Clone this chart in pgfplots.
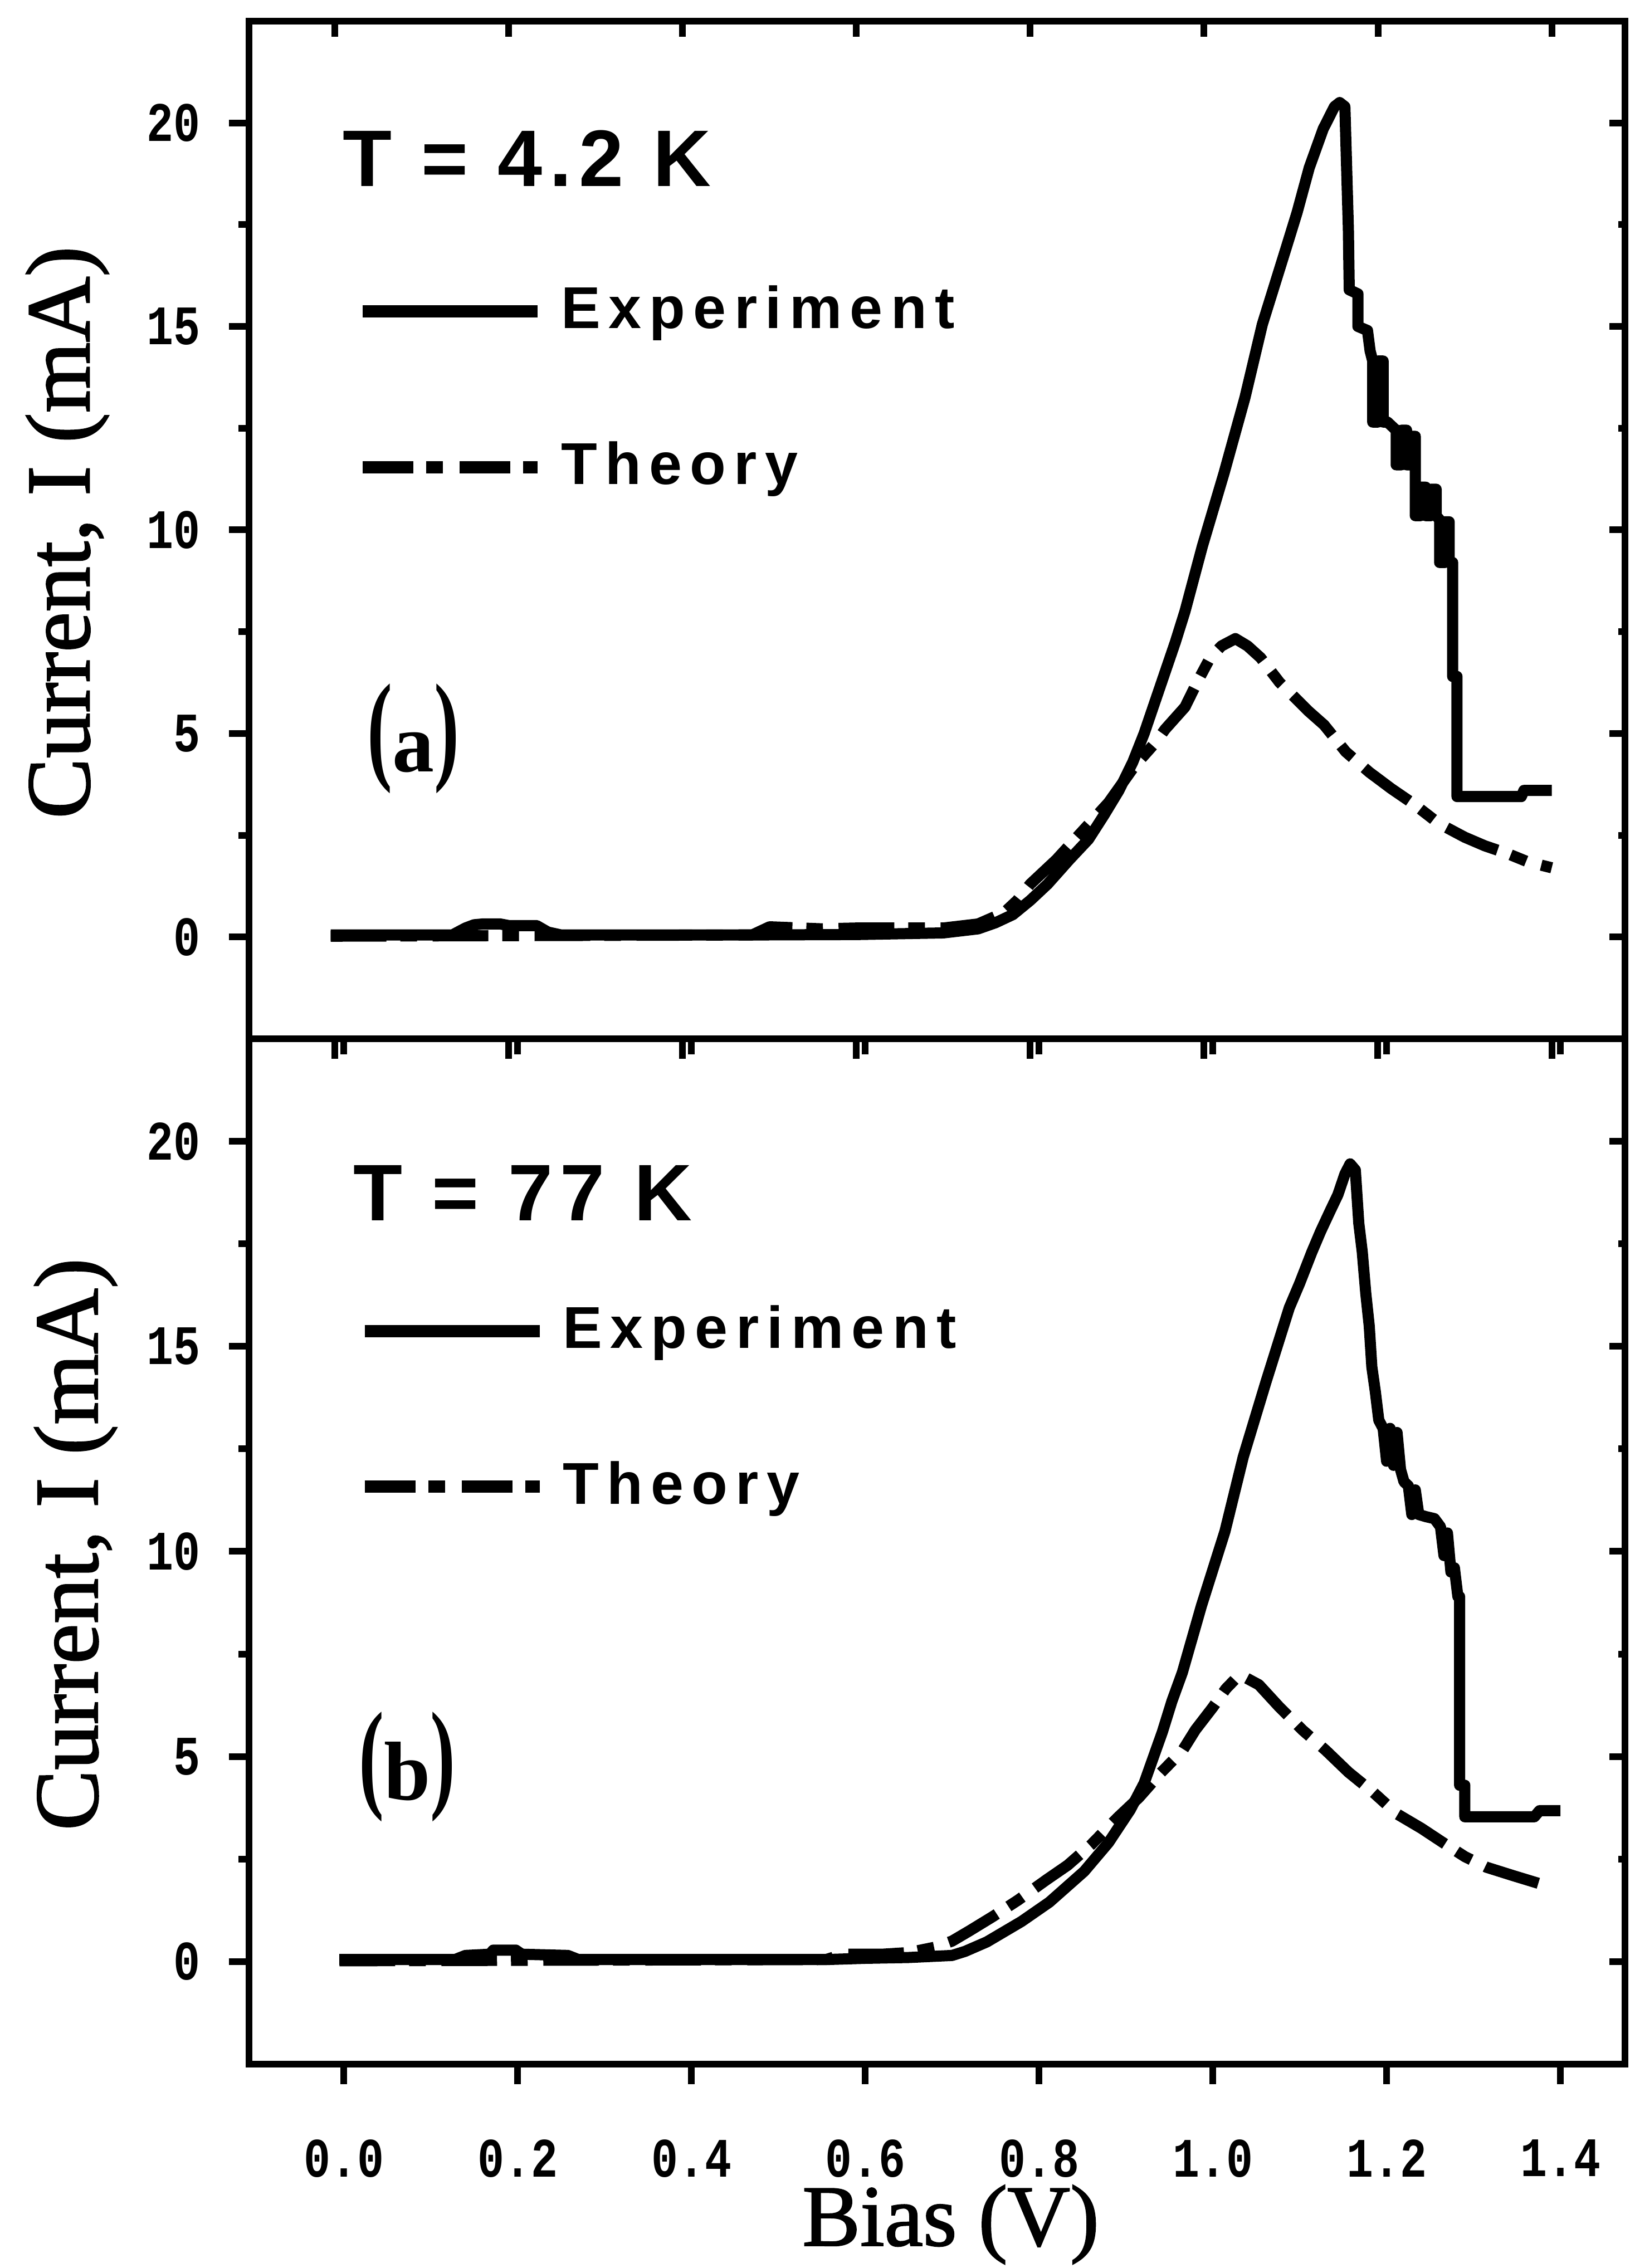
\documentclass[border=0pt]{standalone}
\usepackage{fontspec}
\setmainfont{Liberation Serif}
\newfontfamily\labfont{Liberation Serif}[FakeBold=1.5]
\newfontfamily\tickfont{Liberation Mono}[FakeStretch=0.8]
\newfontfamily\legfont{Liberation Sans}[LetterSpace=13.5]
\newfontfamily\tempfont{Liberation Sans}[LetterSpace=9]
\usepackage{graphicx}
\usepackage{pgfplots}
\usepackage{pgfplotstable}
\pgfplotsset{compat=1.18}

% measured I-V curves: bias (V), current (mA)
\pgfplotstableread{
V I
-0.005 0.05
0.135 0.05
0.150 0.22
0.160 0.30
0.170 0.32
0.190 0.32
0.200 0.28
0.232 0.28
0.245 0.12
0.260 0.05
0.480 0.05
0.600 0.06
0.700 0.10
0.740 0.20
0.760 0.35
0.780 0.55
0.800 0.90
0.820 1.30
0.845 1.90
0.867 2.40
0.885 3.00
0.902 3.60
0.918 4.30
0.931 5.00
0.943 5.75
0.955 6.50
0.967 7.25
0.978 8.00
0.998 9.60
1.023 11.40
1.047 13.25
1.067 15.05
1.094 16.90
1.107 17.80
1.121 18.90
1.137 19.85
1.150 20.40
1.156 20.50
1.162 20.40
1.166 17.40
1.167 15.90
1.177 15.80
1.177 15.00
1.188 14.90
1.191 14.40
1.194 14.15
1.194 12.65
1.200 12.65
1.200 14.15
1.206 14.15
1.206 12.65
1.211 12.65
1.221 12.45
1.221 11.60
1.227 11.60
1.227 12.45
1.233 12.45
1.233 11.60
1.239 11.60
1.239 12.30
1.243 12.30
1.243 10.35
1.249 10.35
1.249 11.05
1.255 11.05
1.255 10.35
1.261 10.35
1.261 11.00
1.267 11.00
1.267 10.35
1.271 10.25
1.271 9.20
1.277 9.20
1.277 10.20
1.282 10.20
1.282 9.20
1.286 9.20
1.286 6.40
1.291 6.40
1.291 3.45
1.365 3.45
1.368 3.60
1.400 3.60
}\expA

\pgfplotstableread{
V I
-0.005 0.02
0.480 0.05
0.500 0.25
0.560 0.20
0.600 0.22
0.650 0.22
0.700 0.22
0.740 0.32
0.770 0.60
0.785 0.90
0.800 1.30
0.830 1.90
0.860 2.60
0.890 3.30
0.920 4.20
0.945 4.80
0.955 5.10
0.978 5.65
0.993 6.30
1.007 6.86
1.020 7.15
1.036 7.33
1.050 7.15
1.065 6.86
1.087 6.25
1.106 5.85
1.120 5.55
1.138 5.21
1.163 4.55
1.190 4.05
1.215 3.65
1.241 3.27
1.270 2.79
1.300 2.45
1.323 2.24
1.349 2.05
1.372 1.85
1.400 1.70
}\thA

\pgfplotstableread{
V I
-0.005 0.05
0.128 0.05
0.140 0.15
0.168 0.18
0.172 0.28
0.198 0.28
0.205 0.18
0.258 0.15
0.270 0.05
0.555 0.05
0.600 0.08
0.650 0.10
0.700 0.15
0.715 0.25
0.740 0.48
0.780 0.98
0.812 1.45
0.852 2.20
0.880 2.90
0.905 3.70
0.921 4.35
0.942 5.60
0.953 6.35
0.965 7.05
0.987 8.68
1.014 10.49
1.035 12.30
1.061 14.12
1.088 15.94
1.100 16.54
1.114 17.30
1.124 17.80
1.135 18.30
1.144 18.70
1.152 19.20
1.158 19.45
1.164 19.30
1.168 18.00
1.172 17.30
1.176 16.30
1.180 15.50
1.183 14.50
1.187 13.90
1.191 13.20
1.196 13.00
1.200 12.20
1.204 13.00
1.208 12.10
1.212 12.90
1.216 12.00
1.220 11.70
1.225 11.60
1.229 10.90
1.233 11.50
1.237 10.90
1.245 10.85
1.255 10.80
1.262 10.60
1.266 9.90
1.270 10.45
1.274 9.50
1.278 9.60
1.282 8.90
1.284 8.90
1.284 4.30
1.290 4.30
1.290 3.53
1.370 3.53
1.376 3.68
1.400 3.68
}\expB

\pgfplotstableread{
V I
-0.005 0.02
0.555 0.05
0.575 0.18
0.620 0.18
0.650 0.22
0.680 0.35
0.700 0.50
0.720 0.75
0.747 1.10
0.776 1.50
0.809 2.00
0.833 2.35
0.860 2.85
0.890 3.50
0.915 4.00
0.940 4.60
0.965 5.14
0.980 5.65
1.000 6.20
1.015 6.65
1.031 7.00
1.053 6.75
1.076 6.22
1.103 5.65
1.130 5.15
1.156 4.62
1.185 4.12
1.212 3.60
1.240 3.25
1.265 2.90
1.290 2.56
1.315 2.30
1.345 2.10
1.376 1.90
}\thB

\tikzset{ylab/.style={font=\labfont\fontsize{16.3}{18}\selectfont, inner sep=0pt},
  xlab/.style={font=\labfont\fontsize{15.6}{17}\selectfont, inner sep=0pt}}

\pgfplotsset{
  panel/.style={
    scale only axis, width=247pt,
    ymin=-2.5, ymax=22.5,
    axis line style={line width=1.2pt},
    every tick/.style={black, line width=1.2pt},
    xtick={0,0.2,0.4,0.6,0.8,1.0,1.2,1.4},
    ytick={0,5,10,15,20},
    minor ytick={2.5,7.5,12.5,17.5},
    yticklabels={0,5,10,15,20},
    ticklabel style={font=\tickfont\bfseries\fontsize{10}{10}\selectfont},
    yticklabel style={xshift=-1.6pt},
    xticklabel style={inner sep=0pt, yshift=-9.8pt},
    clip=false,
  },
  outerticks/.style={
    tick align=outside, xtick pos=left, ytick pos=left,
    major tick length=3.6pt, minor tick length=1.9pt,
  },
  innerticks/.style={
    tick align=inside, xtick pos=right, ytick pos=right,
    major tick length=2.8pt, minor tick length=1.2pt,
    xticklabels={}, yticklabels={},
  },
  exper/.style={black, line width=2pt, line join=round},
  theory/.style={black, line width=2pt, line join=round,
    dash pattern=on 10pt off 2.5pt on 3pt off 2.8pt,
    legend image post style={dash pattern=on 9.1pt off 2.3pt on 3pt off 3pt}},
  legbox/.style={
    legend style={draw=none, fill=none, inner sep=0pt, outer sep=0pt,
      row sep=18.8pt, column sep=3.1pt, nodes={inner sep=0pt},
      font=\legfont\bfseries\fontsize{10.6}{12}\selectfont},
    legend cell align=left,
    legend image code/.code={\draw[##1, line width=2.2pt] (0pt,0pt) -- (31.4pt,0pt);},
  },
}

\begin{document}
\begin{tikzpicture}
\path[use as bounding box] (0,0) rectangle (292.5pt,407.2pt);

% (a) T = 4.2 K
\begin{axis}[panel, outerticks, legbox,
  at={(44.7pt,220.7pt)}, anchor=south west, height=182.7pt,
  xmin=-0.099, xmax=1.4843, xticklabels={},
  ylabel={Current, I (mA)},
  ylabel style={ylab, at={(axis description cs:-0.132,0.4975)}, anchor=center},
  legend style={at={(axis cs:0.025,16.0)}, anchor=north west},
]
\addplot[exper] table[x=V, y=I] {\expA};
\addlegendentry{Experiment}
\addplot[theory] table[x=V, y=I] {\thA};
\addlegendentry{Theory}
\node[anchor=base west, inner sep=0pt,
  font=\tempfont\bfseries\fontsize{14.4}{16}\selectfont]
  at (axis cs:0.008,18.44) {T = 4.2 K};
\node[anchor=base, inner sep=0pt, font=\bfseries\fontsize{15}{18}\selectfont]
  at (axis cs:0.09,4.06)
  {\raisebox{0.7pt}{\scalebox{0.9}[1.45]{(}}a\raisebox{0.7pt}{\scalebox{0.9}[1.45]{)}}};
\end{axis}
\begin{axis}[panel, innerticks,
  at={(44.7pt,220.7pt)}, anchor=south west, height=182.7pt,
  xmin=-0.099, xmax=1.4843]
\end{axis}

% (b) T = 77 K
\begin{axis}[panel, outerticks, legbox,
  at={(44.7pt,36.6pt)}, anchor=south west, height=184.1pt,
  xmin=-0.109, xmax=1.4743,
  xticklabels={0.0,0.2,0.4,0.6,0.8,1.0,1.2,1.4},
  ylabel={Current, I (mA)},
  ylabel style={ylab, at={(axis description cs:-0.126,0.507)}, anchor=center},
  xlabel={Bias (V)},
  xlabel style={xlab, at={(axis description cs:0.51,-0.1565)}, anchor=center},
  legend style={at={(axis cs:0.017,16.0)}, anchor=north west},
]
\addplot[exper] table[x=V, y=I] {\expB};
\addlegendentry{Experiment}
\addplot[theory] table[x=V, y=I] {\thB};
\addlegendentry{Theory}
\node[anchor=base west, inner sep=0pt,
  font=\tempfont\bfseries\fontsize{14.4}{16}\selectfont]
  at (axis cs:0.01,18.06) {T = 77 K};
\node[anchor=base, inner sep=0pt, font=\bfseries\fontsize{15}{18}\selectfont]
  at (axis cs:0.073,3.95)
  {\raisebox{0.7pt}{\scalebox{0.9}[1.45]{(}}b\raisebox{0.7pt}{\scalebox{0.9}[1.45]{)}}};
\end{axis}
\begin{axis}[panel, innerticks,
  at={(44.7pt,36.6pt)}, anchor=south west, height=184.1pt,
  xmin=-0.109, xmax=1.4743]
\end{axis}
\end{tikzpicture}
\end{document}
